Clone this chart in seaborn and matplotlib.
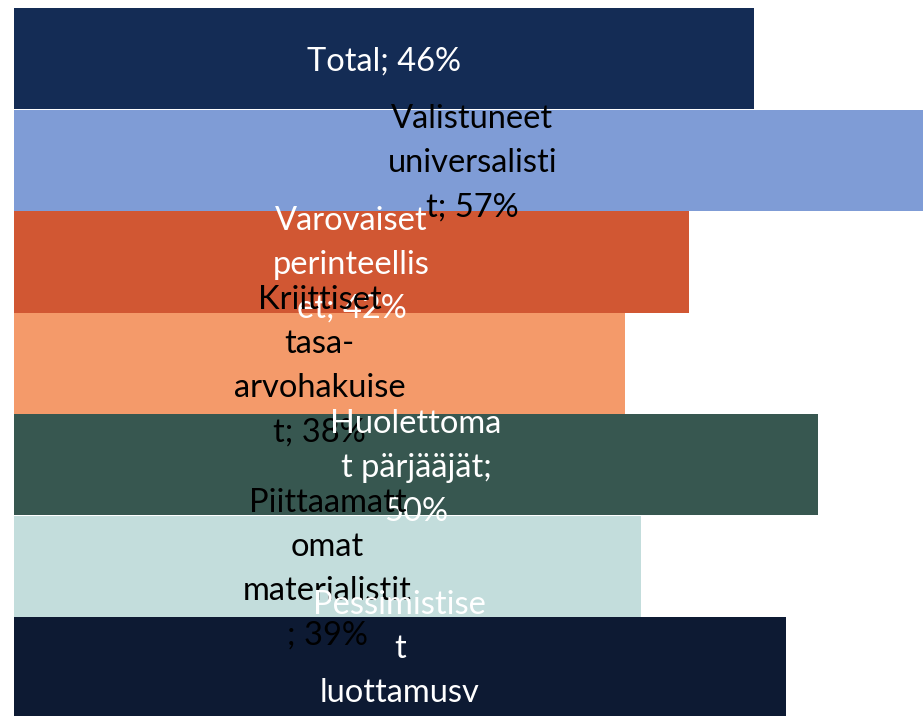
import matplotlib
matplotlib.use("Agg")
import matplotlib.pyplot as plt
import seaborn as sns

# Segments and shares (%)
segments = ['Total', 'Valistuneet universalistit', 'Varovaiset perinteelliset',
            'Kriittiset tasa-arvohakuiset', 'Huolettomat pärjääjät',
            'Piittaamattomat materialistit', 'Pessimistiset luottamusvajeiset']
values = [46, 57, 42, 38, 50, 39, 48]
# data labels as wrapped in the original chart
labels = ['Total; 46%',
          'Valistuneet\nuniversalisti\nt; 57%',
          'Varovaiset\nperinteellis\net; 42%',
          'Kriittiset\ntasa-\narvohakuise\nt; 38%',
          'Huolettoma\nt pärjääjät;\n50%',
          'Piittaamatt\nomat\nmaterialistit\n; 39%',
          'Pessimistise\nt\nluottamusv\najeiset; 48%']
colors = ['#142C55', '#7F9CD6', '#D15733', '#F49A6A', '#375750', '#C3DDDC', '#0D1A33']
text_colors = ['white', 'black', 'white', 'black', 'white', 'black', 'white']

sns.set_style("white")
plt.rcParams['font.family'] = ['Lato', 'DejaVu Sans']

fig = plt.figure(figsize=(9.23, 7.16), dpi=100)
ax = fig.add_axes([0, 0, 1, 1])

sns.barplot(x=values, y=segments, hue=segments, palette=colors, legend=False,
            orient='h', width=1.0, saturation=1, linewidth=0, ax=ax)

px = 16.08  # pixels per percent
ax.set_xlim(-14 / px, (923 - 14) / px)
ax.set_ylim((716 - 8) / 101.5 - 0.5, -0.5 - 8 / 101.5)
ax.axis('off')

for i, (v, lab) in enumerate(zip(values, labels)):
    ax.text(v / 2, i + 0.03, lab, ha='center', va='center', multialignment='center',
            fontsize=23.5, color=text_colors[i], linespacing=1.58, zorder=10)

fig.savefig('out.png', dpi=100)
